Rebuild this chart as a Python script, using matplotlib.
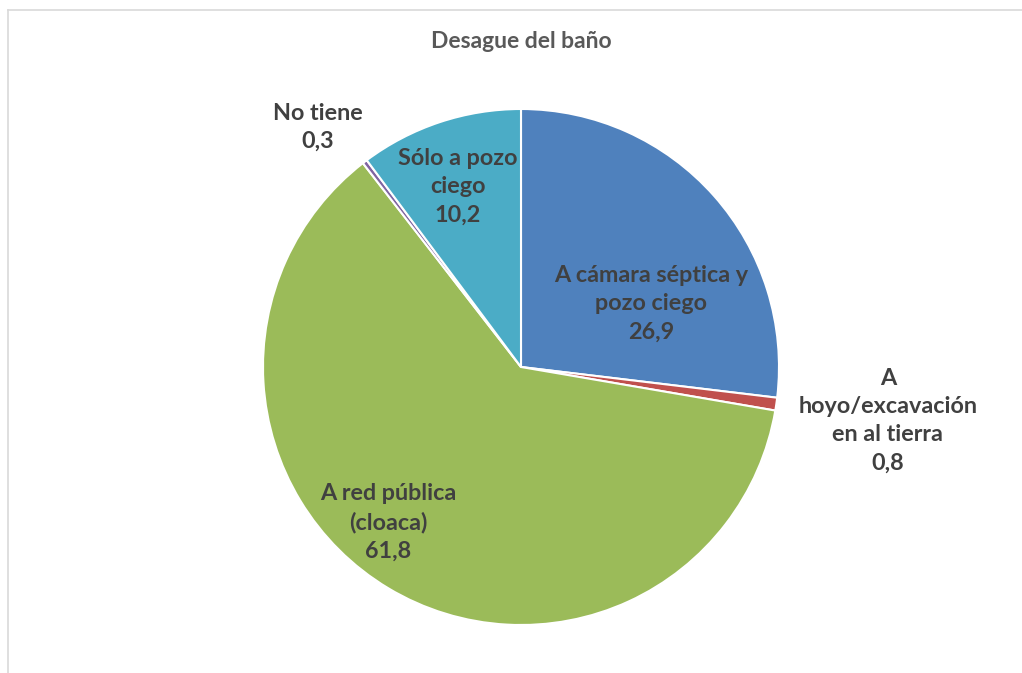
import matplotlib
matplotlib.use("Agg")
import matplotlib.pyplot as plt
from matplotlib.lines import Line2D

categories = ["A cámara séptica y\npozo ciego", "A\nhoyo/excavación\nen al tierra",
              "A red pública\n(cloaca)", "No tiene", "Sólo a pozo\nciego"]
values = [26.9, 0.8, 61.8, 0.3, 10.2]
value_labels = ["26,9", "0,8", "61,8", "0,3", "10,2"]
colors = ["#4F81BD", "#C0504D", "#9BBB59", "#8064A2", "#4BACC6"]
title = "Desague del baño"

# label positions (in pie radius units, relative to center)
label_pos = [(0.504, 0.245), (1.422, -0.209), (-0.516, -0.601), (-0.787, 0.928), (-0.244, 0.698)]

W, H = 1022, 673
fig = plt.figure(figsize=(W / 100, H / 100), dpi=100)
fig.patch.set_facecolor("white")

cx, cy, r = 521, 367, 258
ax = fig.add_axes([(cx - r) / W, (H - cy - r) / H, 2 * r / W, 2 * r / H])

ax.pie(values, colors=colors, startangle=90, counterclock=False, radius=1,
       wedgeprops=dict(edgecolor="white", linewidth=1.5))
ax.set_xlim(-1, 1)
ax.set_ylim(-1, 1)
ax.axis("off")

font = ["Lato", "DejaVu Sans"]
for cat, vl, (x, y) in zip(categories, value_labels, label_pos):
    ax.text(x, y, f"{cat}\n{vl}", ha="center", va="center", fontsize=16.8,
            fontweight="bold", color="#404040", family=font, linespacing=1.42,
            clip_on=False)

fig.text(521 / W, 1 - 41 / H, title, ha="center", va="center", fontsize=16.5,
         fontweight="bold", color="#595959", family=font)

# chart frame (top and left edges visible)
fig.add_artist(Line2D([8 / W, 8 / W], [0, 1 - 10 / H], transform=fig.transFigure,
                      color="#D9D9D9", linewidth=1.2))
fig.add_artist(Line2D([8 / W, 1], [1 - 10 / H, 1 - 10 / H], transform=fig.transFigure,
                      color="#D9D9D9", linewidth=1.2))

fig.savefig("out.png", dpi=100, facecolor="white")
